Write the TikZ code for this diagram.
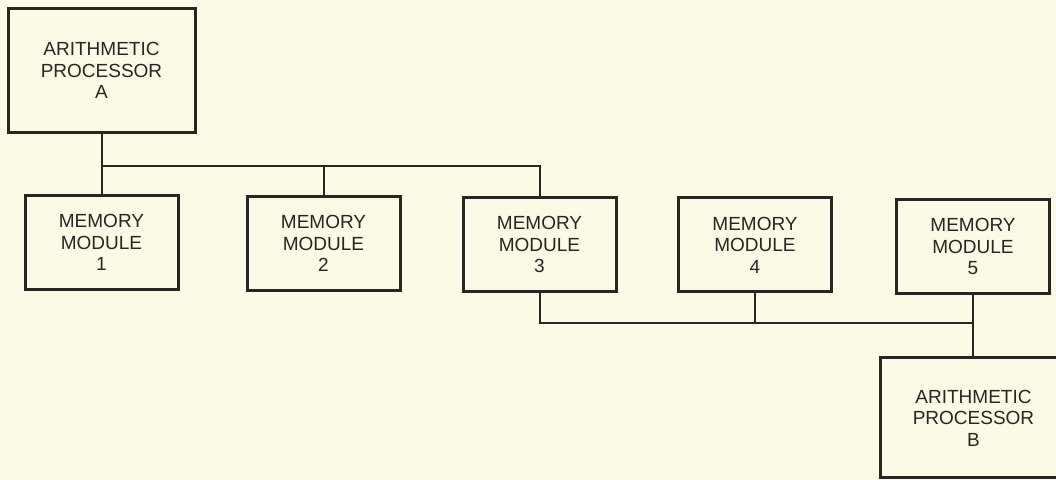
\documentclass[tikz,border=0pt]{standalone}
\usepackage{fontspec}
\setmainfont{Liberation Sans}
\definecolor{paper}{HTML}{FAFAE6}
\definecolor{ink}{HTML}{2B2522}

\begin{document}
\begin{tikzpicture}[x=0.5pt,y=-0.5pt,
  unit/.style={draw=ink,line width=1.5pt,align=center,text=ink,inner sep=0pt,
    font=\fontsize{9.5}{10.8}\selectfont},
  proc/.style={unit,minimum width=93.5pt,minimum height=62pt},
  mem/.style={unit,minimum width=76.5pt,minimum height=47pt},
  bus/.style={draw=ink,line width=1pt}]
\fill[paper] (0,0) rectangle (1056,480);
\useasboundingbox (0,0) rectangle (1056,480);
\node[proc] (pa) at (101.5,70.5) {ARITHMETIC\\PROCESSOR\\A};
\node[mem] (m1) at (101.5,242.5) {MEMORY\\MODULE\\1};
\node[mem] (m2) at (323.5,243.5) {MEMORY\\MODULE\\2};
\node[mem] (m3) at (539.5,244.5) {MEMORY\\MODULE\\3};
\node[mem] (m4) at (755,245) {MEMORY\\MODULE\\4};
\node[mem] (m5) at (973,246.5) {MEMORY\\MODULE\\5};
\node[proc,minimum height=60pt] (pb) at (973.5,418) {ARITHMETIC\\PROCESSOR\\B};
\coordinate (ja) at (101.5,166);
\coordinate (jb) at (973,323);
\draw[bus] (pa.south) -- (m1.north);
\draw[bus] (ja) -| (m3.north);
\draw[bus] (m2.north) -- (m2.north |- ja);
\draw[bus] (m3.south) |- (jb);
\draw[bus] (m4.south) -- (m4.south |- jb);
\draw[bus] (m5.south) -- (m5.south |- pb.north);
\end{tikzpicture}
\end{document}
